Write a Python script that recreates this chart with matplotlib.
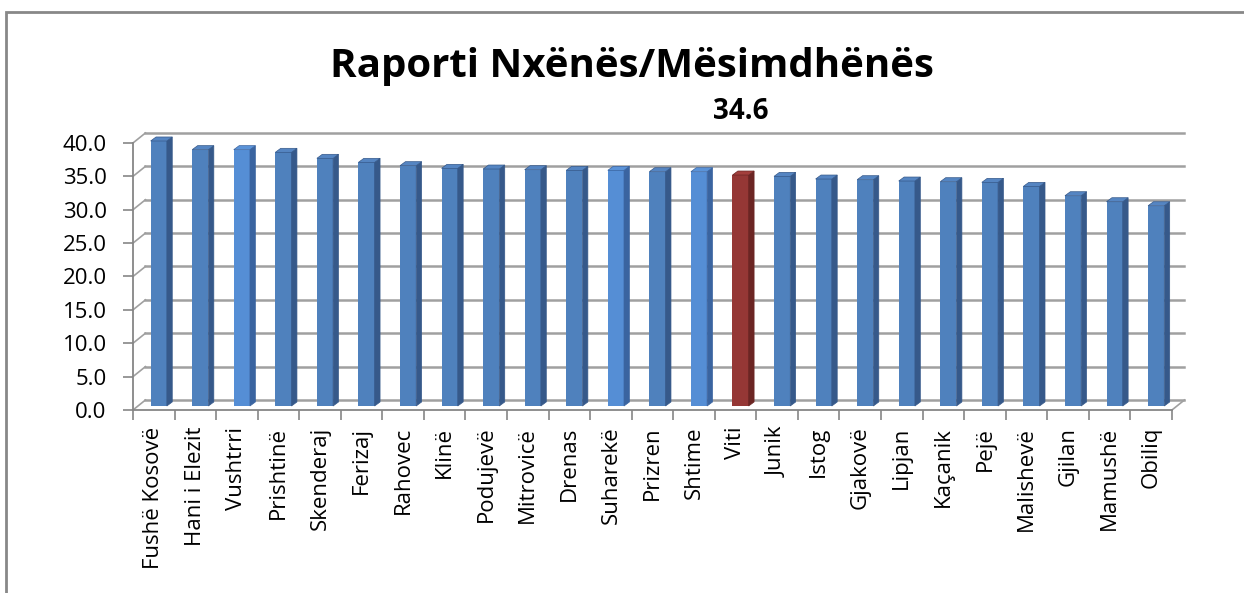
import matplotlib
matplotlib.use("Agg")
import matplotlib.pyplot as plt
from matplotlib.patches import Polygon, Rectangle

# data
categories = ["Fushë Kosovë", "Hani i Elezit", "Vushtrri", "Prishtinë", "Skenderaj",
              "Ferizaj", "Rahovec", "Klinë", "Podujevë", "Mitrovicë", "Drenas",
              "Suharekë", "Prizren", "Shtime", "Viti", "Junik", "Istog", "Gjakovë",
              "Lipjan", "Kaçanik", "Pejë", "Malishevë", "Gjilan", "Mamushë", "Obiliq"]
values = [39.7, 38.4, 38.4, 38.0, 37.1, 36.5, 36.0, 35.6, 35.5, 35.4, 35.3, 35.3,
          35.1, 35.1, 34.6, 34.4, 34.0, 33.9, 33.7, 33.6, 33.5, 32.9, 31.5, 30.6, 30.0]
yticks = [0, 5, 10, 15, 20, 25, 30, 35, 40]
highlight = "Viti"
light_bars = ["Vushtrri", "Suharekë", "Shtime"]

plt.rcParams['font.family'] = ['Open Sans', 'DejaVu Sans']

fig = plt.figure(figsize=(12.44, 5.93), dpi=100)
ax = fig.add_axes([0.1069, 0.3086, 0.8352, 0.4728])
ax.set_xlim(-0.5, len(categories) - 0.5)
ax.set_ylim(0, 42)

# fake 3d offsets (data units)
wall_dx, wall_dy = 0.3, 1.5
bar_dx, bar_dy = 0.12, 0.6
bw = 0.39
side_dx, side_dy = 0.13, 0.6

grid_c = "#A0A0A0"
x0, x1 = -0.5, len(categories) - 0.5
# back wall gridlines + left wall connectors
for t in yticks:
    ax.plot([x0 + wall_dx, x1 + wall_dx], [t + wall_dy, t + wall_dy], color=grid_c, lw=1.8,
            clip_on=False, zorder=1)
    ax.plot([x0, x0 + wall_dx], [t, t + wall_dy], color=grid_c, lw=1.2, clip_on=False, zorder=1)
ax.plot([x1, x1 + wall_dx], [0, wall_dy], color=grid_c, lw=1.2, clip_on=False, zorder=1)

# bars
for i, (name, v) in enumerate(zip(categories, values)):
    if name == highlight:
        front, side, top = "#953735", "#6B2523", "#A33F3C"
    elif name in light_bars:
        front, side, top = "#558ED5", "#3A64A0", "#5B93D8"
    else:
        front, side, top = "#4F81BD", "#36598A", "#5585C2"
    left = i + bar_dx - bw / 2
    right = left + bw
    b0 = bar_dy
    ax.bar(left + bw / 2, v, bw, bottom=b0, color=front, zorder=3)
    ax.add_patch(Polygon([(right, b0), (right + side_dx, b0 + side_dy),
                          (right + side_dx, b0 + v + side_dy), (right, b0 + v)],
                         closed=True, facecolor=side, edgecolor=side, lw=0.5, zorder=3))
    ax.add_patch(Polygon([(left, b0 + v), (right, b0 + v),
                          (right + side_dx, b0 + v + side_dy), (left + side_dx, b0 + v + side_dy)],
                         closed=True, facecolor=top, edgecolor=side, lw=0.5, zorder=3))
    if name == highlight:
        ax.annotate(f"{v:.1f}", xy=(i + bar_dx, b0 + v), xytext=(0, 46),
                    textcoords="offset points", ha="center", va="center",
                    fontsize=20, fontweight="bold", annotation_clip=False)

# axes styling
for s in ["top", "right"]:
    ax.spines[s].set_visible(False)
ax.spines["left"].set_bounds(0, 40)
for s in ["left", "bottom"]:
    ax.spines[s].set_color("#868686")
    ax.spines[s].set_linewidth(1.3)
ax.set_yticks(yticks)
ax.set_yticklabels([f"{t:.1f}" for t in yticks])
ax.tick_params(axis="y", length=7, width=1.2, color="#868686", pad=12, labelsize=16)
ax.set_xticks(range(len(categories)))
ax.set_xticklabels(categories, rotation=90, fontsize=16)
ax.set_xticks([k - 0.5 for k in range(len(categories) + 1)], minor=True)
ax.tick_params(axis="x", which="major", length=0, pad=12)
ax.tick_params(axis="x", which="minor", length=7, width=1.2, color="#868686")
ax.patch.set_visible(False)

fig.text(632 / 1244, 1 - 77 / 593, "Raporti Nxënës/Mësimdhënës", ha="center",
         va="baseline", fontsize=29, fontweight="bold")

# outer chart border
fig.patches.append(Rectangle((6 / 1244, -0.2), 1.2, (593 - 12) / 593 + 0.2,
                             transform=fig.transFigure, fill=False,
                             edgecolor="#888888", lw=2))

fig.savefig("out.png", dpi=100)
